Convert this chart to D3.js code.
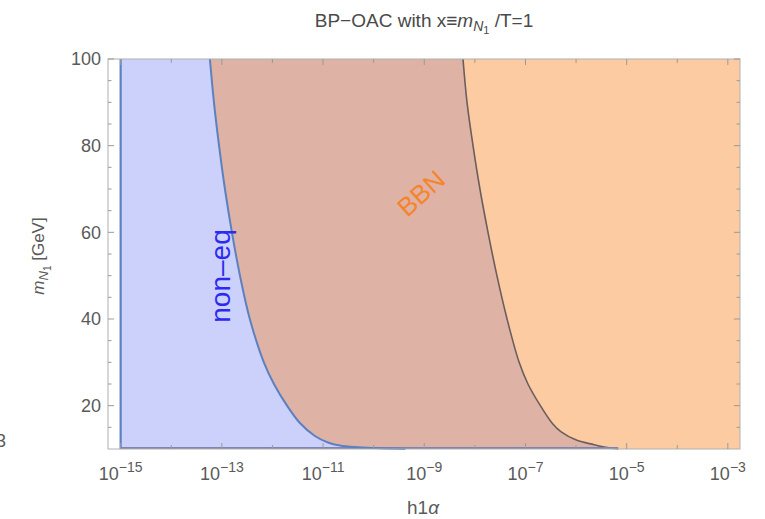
<!DOCTYPE html>
<html>
<head>
<meta charset="utf-8">
<script src="https://cdn.jsdelivr.net/npm/d3@7"></script>
<style>
  html, body { margin: 0; padding: 0; background: #fff; }
  svg { display: block; font-family: "Liberation Sans", Arial, sans-serif; }
</style>
</head>
<body>
<svg id="chart" width="765" height="519"></svg>
<script>
// Boundary of the non-equilibrium region: coupling h1α vs m_N1 [GeV]
const nonEqH    = [5.8e-14, 6.98e-14, 8.8e-14, 1.15e-13, 1.58e-13, 2.28e-13, 3.57e-13, 6.76e-13, 1.07e-12, 1.94e-12, 3.49e-12, 6.9e-12, 1.25e-11, 2.15e-11, 4.9e-11, 1.33e-10, 4.2e-10];
const nonEqMass = [100, 90, 80, 70, 60, 50, 40, 30, 25, 20, 16, 13, 11.5, 10.8, 10.4, 10.15, 10.0];

// BBN constraint boundary
const bbnH    = [5.83e-9, 7.0e-9, 9.2e-9, 1.26e-8, 1.82e-8, 2.73e-8, 4.33e-8, 7.5e-8, 1.12e-7, 1.97e-7, 3.35e-7, 5.0e-7, 1.04e-6, 2.27e-6, 3.4e-6, 5.1e-6, 6.8e-6];
const bbnMass = [100, 90, 80, 70, 60, 50, 40, 30, 25, 20, 16, 14, 12, 11, 10.5, 10.2, 10.0];

// Axis settings
const hMin = 1e-15;                       // lower edge of the scanned coupling range
const xDomain = [Math.pow(10, -15.25), Math.pow(10, -2.76)];
const yDomain = [10, 100];
const xMajorExp = [-15, -13, -11, -9, -7, -5, -3];
const xMinorExp = [-14, -12, -10, -8, -6, -4];
const yMajor = [20, 40, 60, 80, 100];
const yMinor = [15, 25, 30, 35, 45, 50, 55, 65, 70, 75, 85, 90, 95];

const svg = d3.select("#chart");
const L = 108, R = 740, T = 59, B = 449;

const x = d3.scaleLog().domain(xDomain).range([L, R]);
const y = d3.scaleLinear().domain(yDomain).range([B, T]);

const nonEq = nonEqH.map((h, i) => ({ h, m: nonEqMass[i] }));
const bbn = bbnH.map((h, i) => ({ h, m: bbnMass[i] }));

const curve = d3.curveCatmullRom.alpha(0.5);

// Filled regions: orange everywhere right of hMin, brown left of BBN, blue left of non-eq
svg.append("rect")
  .attr("x", x(hMin)).attr("y", T)
  .attr("width", R - x(hMin)).attr("height", B - T)
  .attr("fill", "#fdcba1");

const leftArea = d3.area()
  .curve(curve)
  .y(d => y(d.m))
  .x0(x(hMin))
  .x1(d => x(d.h));

svg.append("path").datum(bbn).attr("d", leftArea).attr("fill", "#dfb2a6");
svg.append("path").datum(nonEq).attr("d", leftArea).attr("fill", "#ccd1fb");

// Region boundaries
const line = d3.line().curve(curve).x(d => x(d.h)).y(d => y(d.m));

svg.append("path").datum(bbn).attr("d", line)
  .attr("fill", "none").attr("stroke", "#6a5e5e").attr("stroke-width", 1.6);

svg.append("line")
  .attr("x1", x(hMin)).attr("x2", x(bbnH[bbnH.length - 1]))
  .attr("y1", y(10) - 1).attr("y2", y(10) - 1)
  .attr("stroke", "#7d85b0").attr("stroke-width", 2);

svg.append("line")
  .attr("x1", x(hMin)).attr("x2", x(hMin))
  .attr("y1", y(100)).attr("y2", y(10))
  .attr("stroke", "#5c80c0").attr("stroke-width", 2.2);

svg.append("path").datum(nonEq).attr("d", line)
  .attr("fill", "none").attr("stroke", "#5c80c0").attr("stroke-width", 2);

// Frame and ticks (drawn inward on all four sides)
svg.append("rect")
  .attr("x", L).attr("y", T).attr("width", R - L).attr("height", B - T)
  .attr("fill", "none").attr("stroke", "#b0b0b0").attr("stroke-width", 1);

const tickG = svg.append("g").attr("stroke", "#9a9a9a").attr("stroke-width", 1);
function xTick(e, len) {
  const px = x(Math.pow(10, e));
  tickG.append("line").attr("x1", px).attr("x2", px).attr("y1", B).attr("y2", B - len);
  tickG.append("line").attr("x1", px).attr("x2", px).attr("y1", T).attr("y2", T + len);
}
function yTick(v, len) {
  const py = y(v);
  tickG.append("line").attr("x1", L).attr("x2", L + len).attr("y1", py).attr("y2", py);
  tickG.append("line").attr("x1", R).attr("x2", R - len).attr("y1", py).attr("y2", py);
}
xMajorExp.forEach(e => xTick(e, 6));
xMinorExp.forEach(e => xTick(e, 4));
yMajor.forEach(v => yTick(v, 6));
yMinor.forEach(v => yTick(v, 3.5));

// Tick labels
const labelColor = "#5a5a5a";
const xl = svg.append("g").attr("fill", labelColor).attr("font-size", 18);
xMajorExp.forEach(e => {
  const t = xl.append("text")
    .attr("x", x(Math.pow(10, e))).attr("y", 480)
    .attr("text-anchor", "middle");
  t.append("tspan").text("10");
  t.append("tspan").attr("dy", -8).attr("font-size", 14).text("\u2212" + Math.abs(e));
});

svg.append("g").attr("fill", labelColor).attr("font-size", 18)
  .selectAll("text").data(yMajor).join("text")
  .attr("x", 101).attr("y", d => y(d))
  .attr("dy", "0.36em").attr("text-anchor", "end")
  .text(d => d);

// Axis titles
const xt = svg.append("text")
  .attr("x", 423).attr("y", 514).attr("text-anchor", "middle")
  .attr("font-size", 19).attr("fill", labelColor);
xt.append("tspan").text("h1");
xt.append("tspan").attr("font-style", "italic").text("\u03b1");

const yt = svg.append("text")
  .attr("transform", "translate(44,256) rotate(-90)")
  .attr("text-anchor", "middle").attr("font-size", 17).attr("fill", labelColor);
yt.append("tspan").attr("font-style", "italic").text("m");
yt.append("tspan").attr("font-style", "italic").attr("font-size", 13).attr("dy", 4).text("N");
yt.append("tspan").attr("font-size", 10).attr("dy", 3).text("1");
yt.append("tspan").attr("dy", -7).text("  [GeV]");

// Title
const title = svg.append("text")
  .attr("x", 424).attr("y", 27).attr("text-anchor", "middle")
  .attr("font-size", 19).attr("fill", "#4a4a4a");
title.append("tspan").text("BP\u2212OAC with x\u2261");
title.append("tspan").attr("font-style", "italic").text("m");
title.append("tspan").attr("font-style", "italic").attr("font-size", 14).attr("dy", 4).text("N");
title.append("tspan").attr("font-size", 11).attr("dy", 3).text("1");
title.append("tspan").attr("dy", -7).text(" /T=1");

// Region labels
svg.append("text")
  .attr("transform", "translate(230,276) rotate(-90)")
  .attr("text-anchor", "middle").attr("font-size", 28)
  .attr("fill", "#2a2af0").text("non\u2013eq");

svg.append("text")
  .attr("transform", "translate(427,200) rotate(-42)")
  .attr("text-anchor", "middle").attr("font-size", 26)
  .attr("fill", "#f5842a").text("BBN");

// Neighbouring panel edge
svg.append("text")
  .attr("x", 6).attr("y", 447).attr("text-anchor", "end")
  .attr("font-size", 18).attr("fill", labelColor).text("3");
</script>
</body>
</html>
